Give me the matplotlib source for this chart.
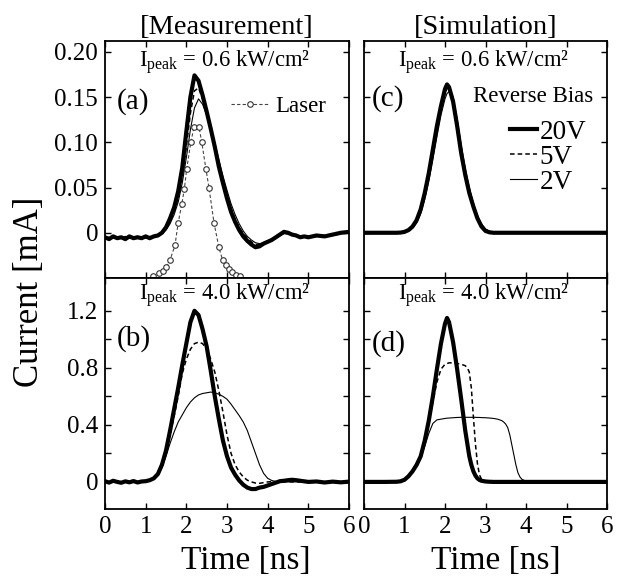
import matplotlib
matplotlib.use("Agg")
import matplotlib.pyplot as plt

plt.rcParams["font.family"] = ["Liberation Serif", "DejaVu Serif"]
plt.rcParams["mathtext.fontset"] = "custom"
plt.rcParams["mathtext.rm"] = "Liberation Serif"
plt.rcParams["mathtext.it"] = "Liberation Serif:italic"

# ---- 데이터 ----
# (a) 측정, 0.6 kW/cm2
t_a = [0.0, 0.1, 0.2, 0.3, 0.4, 0.5, 0.6, 0.7, 0.8, 0.9, 1.0, 1.1, 1.2, 1.3,
       1.4, 1.5, 1.6, 1.7, 1.8, 1.9, 2.0, 2.1, 2.2, 2.3, 2.4, 2.5, 2.6, 2.7,
       2.8, 2.9, 3.0, 3.1, 3.2, 3.3, 3.4, 3.5, 3.6, 3.7, 3.8, 3.9, 4.0, 4.1,
       4.2, 4.3, 4.4, 4.5, 4.6, 4.7, 4.8, 4.9, 5.0, 5.2, 5.4, 5.6, 5.8, 6.0]
a_20v = [-0.005, -0.007, -0.004, -0.006, -0.005, -0.007, -0.004, -0.006, -0.005, -0.006,
         -0.004, -0.006, -0.004, -0.003, 0.000, 0.006, 0.016, 0.028, 0.046, 0.072,
         0.112, 0.150, 0.174, 0.168, 0.152, 0.134, 0.115, 0.095, 0.073, 0.055,
         0.038, 0.023, 0.012, 0.003, -0.004, -0.009, -0.013, -0.016, -0.015, -0.012,
         -0.010, -0.008, -0.005, -0.002, 0.001, 0.000, -0.002, -0.003, -0.005, -0.004,
         -0.005, -0.003, -0.004, -0.002, 0.000, 0.001]
a_5v = [-0.006, -0.005, -0.006, -0.004, -0.006, -0.005, -0.006, -0.005, -0.004, -0.006,
        -0.005, -0.005, -0.004, -0.003, -0.001, 0.004, 0.012, 0.023, 0.039, 0.062,
        0.095, 0.132, 0.157, 0.160, 0.148, 0.132, 0.114, 0.096, 0.076, 0.058,
        0.041, 0.027, 0.015, 0.006, -0.001, -0.006, -0.010, -0.013, -0.013, -0.011,
        -0.009, -0.007, -0.005, -0.003, 0.000, -0.001, -0.002, -0.004, -0.004, -0.005,
        -0.004, -0.004, -0.003, -0.003, -0.001, 0.000]
a_2v = [-0.006, -0.006, -0.005, -0.005, -0.006, -0.004, -0.005, -0.006, -0.005, -0.005,
        -0.006, -0.004, -0.005, -0.004, -0.001, 0.003, 0.010, 0.020, 0.034, 0.055,
        0.083, 0.114, 0.138, 0.148, 0.142, 0.130, 0.115, 0.099, 0.081, 0.063,
        0.047, 0.032, 0.020, 0.010, 0.002, -0.004, -0.008, -0.011, -0.012, -0.011,
        -0.009, -0.007, -0.005, -0.003, -0.001, -0.001, -0.003, -0.004, -0.004, -0.005,
        -0.005, -0.003, -0.004, -0.002, -0.001, 0.000]
laser_t = [1.18, 1.33, 1.43, 1.51, 1.60, 1.72, 1.80, 1.89, 1.95, 2.01, 2.11, 2.19,
           2.31, 2.38, 2.48, 2.56, 2.68, 2.80, 2.89, 2.97, 3.04, 3.12, 3.22, 3.32]
laser_v = [-0.048, -0.045, -0.042, -0.038, -0.030, -0.014, 0.011, 0.032, 0.048, 0.071,
           0.100, 0.117, 0.117, 0.100, 0.071, 0.049, 0.011, -0.016, -0.030, -0.036,
           -0.040, -0.043, -0.047, -0.048]

# (b) 측정, 4.0 kW/cm2
t_b = t_a
b_20v = [0.005, -0.005, 0.008, 0.000, -0.006, 0.004, -0.003, 0.006, -0.004, 0.003,
         0.005, 0.012, 0.025, 0.055, 0.12, 0.22, 0.36, 0.51, 0.66, 0.82,
         0.97, 1.12, 1.20, 1.17, 1.07, 0.95, 0.78, 0.60, 0.44, 0.29,
         0.18, 0.10, 0.05, 0.01, -0.02, -0.04, -0.05, -0.05, -0.04, -0.035,
         -0.025, -0.015, -0.005, 0.005, 0.008, 0.012, 0.015, 0.012, 0.008, 0.004,
         0.000, 0.003, -0.004, 0.002, -0.003, 0.002]
b_5v = [0.002, 0.001, 0.003, 0.000, 0.002, 0.001, 0.002, 0.000, 0.003, 0.002,
        0.004, 0.010, 0.022, 0.05, 0.11, 0.21, 0.33, 0.46, 0.60, 0.76,
        0.86, 0.93, 0.97, 0.98, 0.97, 0.93, 0.86, 0.77, 0.64, 0.49,
        0.33, 0.20, 0.12, 0.07, 0.035, 0.012, 0.000, -0.008, -0.010, -0.005,
        0.000, 0.002, 0.001, 0.000, 0.002, 0.001, 0.000, 0.002, 0.001, 0.000,
        0.001, 0.000, 0.001, 0.000, 0.001, 0.000]
b_2v = [0.001, 0.002, 0.000, 0.002, 0.001, 0.000, 0.002, 0.001, 0.002, 0.001,
        0.003, 0.008, 0.020, 0.045, 0.10, 0.18, 0.27, 0.35, 0.42, 0.47,
        0.52, 0.56, 0.59, 0.61, 0.62, 0.625, 0.63, 0.625, 0.615, 0.60,
        0.58, 0.545, 0.505, 0.465, 0.42, 0.36, 0.28, 0.20, 0.12, 0.06,
        0.025, 0.010, 0.003, 0.001, 0.000, 0.001, 0.000, 0.001, 0.000, 0.001,
        0.000, 0.001, 0.000, 0.001, 0.000, 0.000]

# (c) 시뮬레이션, 0.6 kW/cm2
t_c = [0.0, 0.5, 0.8, 0.9, 1.0, 1.1, 1.2, 1.3, 1.4, 1.5, 1.6, 1.7, 1.8, 1.9, 2.0,
       2.05, 2.1, 2.2, 2.3, 2.4, 2.5, 2.6, 2.7, 2.8, 2.9, 3.0, 3.1, 3.2, 3.5, 6.0]
c_20v = [0, 0, 0, 0.0002, 0.001, 0.003, 0.007, 0.014, 0.026, 0.044, 0.066, 0.092, 0.118,
         0.140, 0.159, 0.164, 0.161, 0.145, 0.118, 0.088, 0.064, 0.044, 0.029, 0.016,
         0.007, 0.002, 0.0005, 0, 0, 0]
c_5v = [0, 0, 0, 0.0001, 0.0008, 0.0025, 0.006, 0.012, 0.023, 0.040, 0.061, 0.086, 0.112,
        0.136, 0.154, 0.160, 0.159, 0.147, 0.121, 0.092, 0.067, 0.047, 0.031, 0.018,
        0.009, 0.004, 0.001, 0, 0, 0]
c_2v = [0, 0, 0, 0.0001, 0.0007, 0.002, 0.005, 0.011, 0.021, 0.037, 0.057, 0.081, 0.106,
        0.130, 0.148, 0.154, 0.156, 0.150, 0.126, 0.097, 0.071, 0.050, 0.033, 0.019,
        0.010, 0.004, 0.0015, 0, 0, 0]

# (d) 시뮬레이션, 4.0 kW/cm2
t_d = [0.0, 0.5, 0.8, 0.9, 1.0, 1.1, 1.2, 1.3, 1.4, 1.5, 1.6, 1.7, 1.8, 1.9, 2.0,
       2.05, 2.1, 2.2, 2.3, 2.4, 2.5, 2.55, 2.6, 2.65, 2.7, 2.75, 2.8, 2.85, 2.9,
       3.0, 3.1, 3.2, 3.3, 3.4, 3.45, 3.5, 3.55, 3.6, 3.65, 3.7, 3.75, 3.8, 3.85,
       3.9, 4.0, 4.2, 6.0]
d_20v = [0, 0, 0.001, 0.004, 0.015, 0.04, 0.075, 0.12, 0.18, 0.29, 0.43, 0.60, 0.79,
         0.97, 1.11, 1.15, 1.12, 0.98, 0.79, 0.58, 0.36, 0.27, 0.18, 0.12, 0.075,
         0.045, 0.025, 0.014, 0.008, 0.003, 0.001, 0, 0, 0, 0, 0, 0, 0, 0, 0, 0, 0,
         0, 0, 0, 0, 0]
d_5v = [0, 0, 0.001, 0.004, 0.014, 0.038, 0.072, 0.115, 0.175, 0.28, 0.41, 0.56, 0.70,
        0.79, 0.825, 0.83, 0.835, 0.835, 0.83, 0.825, 0.815, 0.80, 0.77, 0.66, 0.46,
        0.27, 0.13, 0.05, 0.02, 0.005, 0.001, 0, 0, 0, 0, 0, 0, 0, 0, 0, 0, 0,
        0, 0, 0, 0, 0]
d_2v = [0, 0, 0.001, 0.004, 0.014, 0.036, 0.068, 0.11, 0.165, 0.25, 0.34, 0.41, 0.435,
        0.44, 0.445, 0.447, 0.448, 0.45, 0.452, 0.453, 0.453, 0.453, 0.453, 0.453, 0.453,
        0.453, 0.452, 0.452, 0.451, 0.450, 0.448, 0.445, 0.44, 0.43, 0.42, 0.405, 0.38,
        0.33, 0.26, 0.19, 0.12, 0.065, 0.035, 0.018, 0.005, 0, 0]

x_ticks = [0, 1, 2, 3, 4, 5, 6]
top_yticks = [0, 0.05, 0.10, 0.15, 0.20]
top_ylabels = ["0", "0.05", "0.10", "0.15", "0.20"]
bot_yticks = [0, 0.2, 0.4, 0.6, 0.8, 1.0, 1.2]
bot_ylabels = ["0", "", "0.4", "", "0.8", "", "1.2"]

W, H = 626, 576
fig = plt.figure(figsize=(W / 100, H / 100), dpi=100)


def add_ax(x0, x1, y0, y1):
    return fig.add_axes([x0 / W, 1 - y1 / H, (x1 - x0) / W, (y1 - y0) / H])


ax_a = add_ax(105, 349, 41, 278)
ax_b = add_ax(105, 349, 278, 509)
ax_c = add_ax(364, 607, 41, 278)
ax_d = add_ax(364, 607, 278, 509)

for ax in [ax_a, ax_b, ax_c, ax_d]:
    ax.set_xlim(0, 6)
    ax.set_xticks(x_ticks)
    ax.tick_params(direction="in", length=4, width=1, top=True, right=True,
                   labelsize=18, pad=5)
    for s in ax.spines.values():
        s.set_linewidth(1.3)

for ax in [ax_a, ax_c]:
    ax.set_ylim(-0.05, 0.212)
    ax.set_yticks(top_yticks)
    ax.set_xticklabels([])
for ax in [ax_b, ax_d]:
    ax.set_ylim(-0.19, 1.43)
    ax.set_yticks(bot_yticks)
    ax.set_xlabel("Time [ns]", fontsize=24, va="top")
ax_b.xaxis.set_label_coords(0.578, -0.158)
ax_d.xaxis.set_label_coords(0.543, -0.158)
ax_a.set_yticklabels(top_ylabels)
ax_b.set_yticklabels(bot_ylabels)
ax_c.set_yticklabels([])
ax_d.set_yticklabels([])

thick = dict(color="black", lw=3.0)
dash = dict(color="black", lw=1.1, linestyle=(0, (3, 2)))
thin = dict(color="black", lw=0.8)

# 측정
ax_a.plot(t_a, a_20v, **thick)
ax_a.plot(t_a, a_5v, **dash)
ax_a.plot(t_a, a_2v, **thin)
ax_a.plot(laser_t, laser_v, color="#444444", lw=0.8, linestyle=(0, (3, 2)),
          marker="o", markersize=4, markerfacecolor="white",
          markeredgecolor="#333333", markeredgewidth=0.8, label="Laser")
ax_a.legend(loc="upper right", bbox_to_anchor=(0.905, 0.77), frameon=False,
            fontsize=16.5, handlelength=1.6, handletextpad=0.3,
            borderaxespad=0.0, borderpad=0.0)

ax_b.plot(t_b, b_20v, **thick)
ax_b.plot(t_b, b_5v, **dash)
ax_b.plot(t_b, b_2v, **thin)

# 시뮬레이션
ax_c.plot(t_c, c_20v, label="20V", **thick)
ax_c.plot(t_c, c_5v, label="5V", **dash)
ax_c.plot(t_c, c_2v, label="2V", **thin)
ax_c.text(0.942, 0.764, "Reverse Bias", transform=ax_c.transAxes, ha="right",
          va="center", fontsize=16.5)
ax_c.legend(loc="upper left", bbox_to_anchor=(0.601, 0.667), frameon=False,
            fontsize=19.5, handlelength=1.0, handletextpad=0.1, labelspacing=0.0,
            borderaxespad=0.0, borderpad=0.0)

ax_d.plot(t_d, d_20v, **thick)
ax_d.plot(t_d, d_5v, **dash)
ax_d.plot(t_d, d_2v, **thin)

# 글자
ip_06 = r"I$_{\mathrm{peak}}$ = 0.6 kW/cm²"
ip_40 = r"I$_{\mathrm{peak}}$ = 4.0 kW/cm²"
ax_a.text(0.49, 0.89, ip_06, transform=ax_a.transAxes, ha="center",
          va="baseline", fontsize=16.3)
ax_c.text(0.49, 0.89, ip_06, transform=ax_c.transAxes, ha="center",
          va="baseline", fontsize=16.3)
ax_b.text(0.49, 0.905, ip_40, transform=ax_b.transAxes, ha="center",
          va="baseline", fontsize=16.3)
ax_d.text(0.49, 0.905, ip_40, transform=ax_d.transAxes, ha="center",
          va="baseline", fontsize=16.3)

ax_a.text(0.05, 0.713, "(a)", transform=ax_a.transAxes, fontsize=21, va="baseline")
ax_b.text(0.05, 0.706, "(b)", transform=ax_b.transAxes, fontsize=21, va="baseline")
ax_c.text(0.03, 0.726, "(c)", transform=ax_c.transAxes, fontsize=21, va="baseline")
ax_d.text(0.03, 0.684, "(d)", transform=ax_d.transAxes, fontsize=21, va="baseline")

ax_a.set_title("[Measurement]", fontsize=20.5, pad=5)
ax_c.set_title("[Simulation]", fontsize=20.5, pad=5)

fig.text(30 / W, 1 - 292 / H, "Current [mA]", rotation=90, fontsize=25,
         ha="center", va="center")

fig.savefig("out.png", dpi=100)
